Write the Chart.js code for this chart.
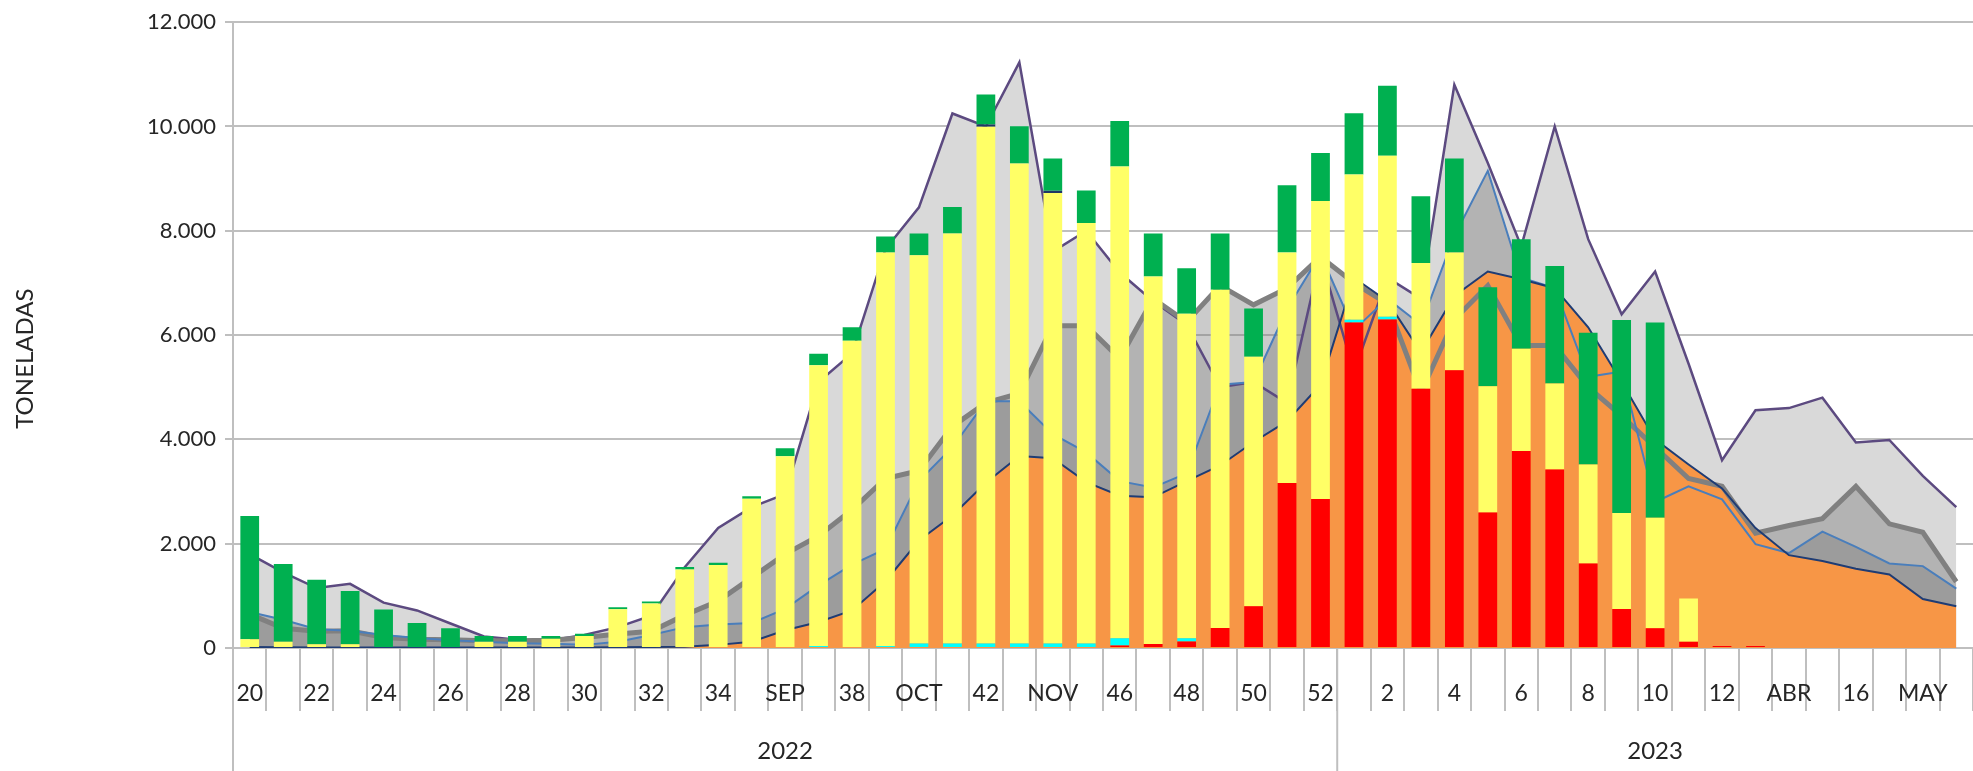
<!DOCTYPE html>
<html><head><meta charset="utf-8">
<script src="https://cdn.jsdelivr.net/npm/chart.js@4"></script>
<style>html,body{margin:0;padding:0;background:#fff}#wrap{width:1973px;height:771px;position:relative}</style>
</head><body><div id="wrap"><canvas id="c"></canvas></div>
<script>
// ---- categories: ISO weeks 2022-W20 .. 2023-W19 ----
const categories = ['2022-20','2022-21','2022-22','2022-23','2022-24','2022-25','2022-26','2022-27','2022-28','2022-29','2022-30','2022-31','2022-32','2022-33','2022-34','2022-35','2022-36','2022-37','2022-38','2022-39','2022-40','2022-41','2022-42','2022-43','2022-44','2022-45','2022-46','2022-47','2022-48','2022-49','2022-50','2022-51','2022-52','2023-01','2023-02','2023-03','2023-04','2023-05','2023-06','2023-07','2023-08','2023-09','2023-10','2023-11','2023-12','2023-13','2023-14','2023-15','2023-16','2023-17','2023-18','2023-19'];
const tickLabels = ['20','','22','','24','','26','','28','','30','','32','','34','','SEP','','38','','OCT','','42','','NOV','','46','','48','','50','','52','','2','','4','','6','','8','','10','','12','','ABR','','16','','MAY',''];
const yearLabels = ['2022','2023'];
const yearStart = [0, 33];
const yearEnd = [32, 51];
const yTitle = 'TONELADAS';

// ---- stacked bars (toneladas) ----
const redBar = [0,0,0,0,0,0,0,0,0,0,0,0,0,0,0,0,0,0,0,0,0,0,0,0,0,0,47,78,125,385,801,3165,2855,6243,6298,4971,5324,2599,3777,3424,1618,746,377,118,40,40,0,0,0,0,0,0];
const cyanBar = [0,0,0,0,0,0,0,0,0,0,0,0,0,0,0,0,0,40,0,40,86,86,86,86,86,86,141,0,63,0,0,0,0,50,55,0,0,0,0,0,0,0,0,0,0,0,0,0,0,0,0,0];
const yellowBar = [170,120,70,70,0,0,0,122,122,179,230,742,851,1504,1590,2860,3675,5380,5890,7546,7445,7860,9910,9204,8640,8065,9047,7045,6220,6486,4782,4421,5717,2785,3086,2411,2262,2419,1963,1649,1900,1845,2120,832,0,0,0,0,0,0,0,0];
const navyBar = [0,0,0,0,0,0,0,0,0,0,0,0,0,0,0,0,0,0,0,0,0,0,40,0,40,0,0,0,0,0,0,0,0,0,0,0,0,0,0,0,0,0,0,0,0,0,0,0,0,0,0,0];
const greenBar = [2360,1490,1240,1025,736,480,378,108,108,51,45,40,40,50,45,50,155,220,260,306,416,511,580,715,620,621,872,824,872,1076,927,1288,918,1178,1343,1280,1798,1900,2097,2254,2529,3699,3746,0,0,0,0,0,0,0,0,0];

// ---- area / line series (toneladas) ----
const purpleLine = [1800,1450,1150,1230,870,720,470,220,160,150,250,400,620,1550,2300,2700,2950,5100,5650,7650,8450,10250,10000,11230,7600,8000,7200,6650,6200,5000,5100,4700,7500,5300,7100,6700,10800,9300,7700,10000,7840,6400,7220,5450,3600,4560,4600,4800,3940,3990,3300,2700];
const grayLine = [650,380,320,330,200,170,160,140,140,150,200,270,320,630,900,1350,1800,2150,2650,3250,3400,4250,4700,4880,6180,6180,5550,6700,6250,6950,6580,6900,7500,7000,6600,4900,6300,6950,5800,5800,5000,4450,3850,3250,3100,2200,2350,2480,3100,2380,2220,1270];
const blueLine = [690,540,360,330,250,190,150,120,90,80,60,120,250,400,450,480,750,1200,1600,1900,3200,3850,4730,4730,4100,3750,3200,3080,3350,5050,5100,6500,7550,6100,6700,6200,7900,9150,7100,6900,5200,5300,2800,3100,2850,1990,1820,2230,1940,1620,1570,1140];
const navyLine = [20,15,10,10,10,10,10,10,10,10,10,15,20,25,60,120,340,500,720,1280,2060,2540,3170,3680,3640,3180,2920,2890,3200,3500,3950,4350,5050,7100,6650,5670,6750,7220,7070,6900,6150,5100,4000,3520,3060,2300,1780,1670,1520,1410,940,800];

const FONT = 'Lato';
const TXT = '#262626';
const GRID = '#bfbfbf';
function fmt(v){ return String(v).replace(/\B(?=(\d{3})+(?!\d))/g, '.'); }

const groupAxisPlugin = {
  id: 'groupAxis',
  afterDraw(chart) {
    const {ctx, chartArea, scales} = chart;
    const x = scales.x;
    const H = chart.height;
    const half = (x.getPixelForValue(1) - x.getPixelForValue(0)) / 2;
    ctx.save();
    ctx.strokeStyle = GRID; ctx.lineWidth = 2;
    const seps = [chartArea.left];
    for (let i = 1; i < yearStart.length; i++) seps.push(x.getPixelForValue(yearStart[i]) - half);
    seps.forEach(px => { ctx.beginPath(); ctx.moveTo(px, chartArea.bottom); ctx.lineTo(px, H); ctx.stroke(); });
    ctx.fillStyle = TXT;
    ctx.font = '24px ' + FONT;
    ctx.textAlign = 'center'; ctx.textBaseline = 'middle';
    yearLabels.forEach((t, i) => {
      const cx = (x.getPixelForValue(yearStart[i]) + x.getPixelForValue(yearEnd[i])) / 2;
      ctx.fillText(t, cx, chartArea.bottom + 103);
    });
    // axis title
    ctx.font = '24px ' + FONT;
    ctx.translate(25, (chartArea.top + H) / 2 - 38);
    ctx.rotate(-Math.PI / 2);
    ctx.fillText(yTitle, 0, 0);
    ctx.restore();
  }
};

const barCommon = {type: 'bar', stack: 'bars', order: 0, barPercentage: 0.56, categoryPercentage: 1, borderWidth: 0};
const lineCommon = {type: 'line', fill: 'origin', pointRadius: 0, pointHoverRadius: 0, tension: 0};

new Chart(document.getElementById('c'), {
  type: 'bar',
  data: {
    labels: categories,
    datasets: [
      Object.assign({label: 'rojo', data: redBar, backgroundColor: '#ff0000'}, barCommon),
      Object.assign({label: 'cian', data: cyanBar, backgroundColor: '#00ffff'}, barCommon),
      Object.assign({label: 'amarillo', data: yellowBar, backgroundColor: '#ffff66'}, barCommon),
      Object.assign({label: 'azul', data: navyBar, backgroundColor: '#1f3864'}, barCommon),
      Object.assign({label: 'verde', data: greenBar, backgroundColor: '#00b050'}, barCommon),
      Object.assign({label: 'naranja', data: navyLine, borderColor: '#1f3c74', borderWidth: 2, backgroundColor: '#f79646', stack: 's1', order: 1}, lineCommon),
      Object.assign({label: 'azul claro', data: blueLine, borderColor: '#4a7ebb', borderWidth: 2, backgroundColor: 'rgba(119,119,119,0.38)', stack: 's2', order: 2}, lineCommon),
      Object.assign({label: 'gris', data: grayLine, borderColor: '#808080', borderWidth: 5, backgroundColor: 'rgba(119,119,119,0.38)', stack: 's3', order: 3}, lineCommon),
      Object.assign({label: 'morado', data: purpleLine, borderColor: '#5c4a80', borderWidth: 2.5, backgroundColor: '#d9d9d9', stack: 's4', order: 4}, lineCommon)
    ]
  },
  options: {
    responsive: true, maintainAspectRatio: false, animation: false,
    layout: {padding: {top: 22, right: 0, left: 0, bottom: 0}},
    plugins: {legend: {display: false}, tooltip: {enabled: false}, filler: {drawTime: 'beforeDatasetsDraw'}},
    scales: {
      x: {
        stacked: true, offset: true,
        grid: {display: true, drawOnChartArea: false, drawTicks: true, tickLength: 63, color: GRID, lineWidth: 2, offset: true},
        border: {color: GRID, width: 2},
        ticks: {autoSkip: false, maxRotation: 0, minRotation: 0, padding: -31, color: TXT, font: {family: FONT, size: 23},
          callback: (v, i) => tickLabels[i]},
        afterFit(s) { s.height = 123; }
      },
      y: {
        stacked: true, min: 0, max: 12000,
        ticks: {stepSize: 2000, padding: 9, color: TXT, font: {family: FONT, size: 22}, callback: v => fmt(v)},
        grid: {color: GRID, lineWidth: 2, tickLength: 8},
        border: {color: GRID, width: 2},
        afterFit(s) { s.width = 233; }
      }
    }
  },
  plugins: [groupAxisPlugin]
});
</script>
</body></html>
